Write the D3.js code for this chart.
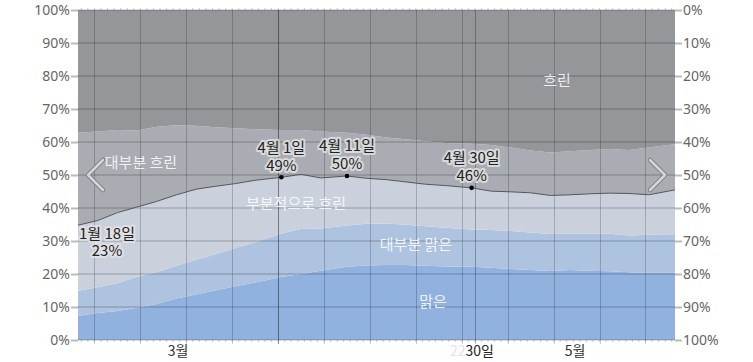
<!DOCTYPE html>
<html><head><meta charset="utf-8">
<script src="https://cdn.jsdelivr.net/npm/d3@7"></script>
<style>
html,body{margin:0;padding:0;background:#fff;}
svg{display:block;font-family:"Noto Sans CJK KR","Noto Sans",sans-serif;}
</style></head>
<body><svg id="chart" width="753" height="362"></svg>
<script>
// ---- data (day 0 = 3월 1일) ----
const days =         [0,   3,   6,   9,   12,  15,  18,  21,  24,  27,  31,  34,  37,  41,  44,  47,  50,  53,  56,  60,  63,  66,  69,  72,  75,  78,  81,  84,  87,  91];
const clear =        [7.3, 8.2, 8.8, 9.8, 10.9,12.6,13.8,15.1,16.3,17.4,19.1,20.0,21.0,22.2,22.6,22.7,22.7,22.5,22.3,22.2,21.9,21.5,21.2,20.9,21.2,21.0,20.8,20.5,20.4,20.4];
const mostlyClear =  [7.6, 7.8, 8.4, 9.4, 9.7, 9.9, 10.5,10.9,11.6,12.2,13.2,13.6,12.8,12.5,12.6,12.6,12.2,12.0,11.7,11.3,11.4,11.5,11.4,11.2,11.1,11.3,11.4,11.2,11.5,11.4];
const partlyCloudy = [19.9,20.2,21.4,21.1,21.4,21.5,21.4,20.6,19.5,18.8,17.0,16.6,15.3,15.0,13.8,13.3,13.0,12.7,12.8,12.6,11.8,11.9,12.0,11.7,11.7,12.0,12.3,12.7,12.1,13.7];
const mostlyCloudy = [28.0,27.0,25.0,23.2,22.6,21.1,19.2,17.9,16.8,15.5,14.3,13.4,14.1,13.1,13.2,12.8,12.9,13.0,12.9,13.4,14.0,13.4,12.8,13.0,13.2,13.3,13.4,13.2,14.3,13.8];
const overcast =     [37.2,36.8,36.4,36.5,35.4,34.9,35.1,35.5,35.8,36.1,36.4,36.4,36.8,37.2,37.8,38.6,39.2,39.8,40.3,40.5,40.9,41.7,42.6,43.2,42.8,42.4,42.1,42.4,41.7,40.7];
const categories = ["맑은", "대부분 맑은", "부분적으로 흐린", "대부분 흐린", "흐린"];
const yTicks = [0,10,20,30,40,50,60,70,80,90,100];
const monthLabels = ["3월", "5월"];
const monthSpans = [[0, 30.5], [60.5, 91]];
const monthBoundaries = [30.5, 60.5];
const annotations = [
  {day: 31, line1: "4월 1일", line2: "49%"},
  {day: 41, line1: "4월 11일", line2: "50%"},
  {day: 60, line1: "4월 30일", line2: "46%"}
];
const edgeAnnotation = {line1: "1월 18일", line2: "23%"};
const dayCount = 91;

// ---- styles ----
const colors = ["#91b1de", "#aec3df", "#cbd1dc", "#a9acb3", "#949699"];

const svg = d3.select("#chart");
const L = 78, R = 675, T = 10, B = 340;
const x = d3.scaleLinear().domain([0, dayCount]).range([L, R]);
const y = d3.scaleLinear().domain([0, 100]).range([B, T]);
const yR = d3.scaleLinear().domain([0, 100]).range([T, B]);

const keys = ["clear","mostlyClear","partlyCloudy","mostlyCloudy","overcast"];
const rows = days.map((d,i)=>({day:d, clear:clear[i], mostlyClear:mostlyClear[i], partlyCloudy:partlyCloudy[i], mostlyCloudy:mostlyCloudy[i], overcast:overcast[i]}));
const stack = d3.stack().keys(keys)(rows);

const area = d3.area().x(d=>x(d.data.day)).y0(d=>y(d[0])).y1(d=>y(Math.min(100,d[1])));
svg.append("g").selectAll("path").data(stack).join("path")
  .attr("d", (s,i)=> i===4 ? d3.area().x(d=>x(d.data.day)).y0(d=>y(d[0])).y1(y(100))(s) : area(s))
  .attr("fill", (s,i)=>colors[i]);

// minor daily ticks
const minor = d3.range(0.5, dayCount, 1);
svg.append("g").selectAll("line").data(minor).join("line")
  .attr("x1", d=>x(d)).attr("x2", d=>x(d)).attr("y1", T-2).attr("y2", T)
  .attr("stroke", "#ccc").attr("stroke-width", 1);
svg.append("g").selectAll("line").data(minor).join("line")
  .attr("x1", d=>x(d)).attr("x2", d=>x(d)).attr("y1", B).attr("y2", B+2)
  .attr("stroke", "#ccc").attr("stroke-width", 1);

// horizontal grid
svg.append("g").selectAll("line").data(yTicks).join("line")
  .attr("x1", L).attr("x2", R).attr("y1", d=>y(d)).attr("y2", d=>y(d))
  .attr("stroke", "rgba(0,0,0,0.13)").attr("stroke-width", 2);

// weekly vertical grid
const weeks = d3.range(2.5, dayCount, 7);
svg.append("g").selectAll("line").data(weeks).join("line")
  .attr("x1", d=>Math.round(x(d))+0.5).attr("x2", d=>Math.round(x(d))+0.5).attr("y1", T).attr("y2", B+4)
  .attr("stroke", "rgba(0,0,0,0.2)").attr("stroke-width", 1);
svg.append("g").selectAll("line").data(monthBoundaries).join("line")
  .attr("x1", d=>Math.round(x(d))+0.5).attr("x2", d=>Math.round(x(d))+0.5).attr("y1", T).attr("y2", B+4)
  .attr("stroke", "rgba(0,0,0,0.28)").attr("stroke-width", 1);

// axes
const axL = svg.append("g").attr("transform", `translate(${L},0)`)
  .call(d3.axisLeft(y).tickValues(yTicks).tickFormat(d=>d+"%").tickSize(7).tickPadding(1));
const axR = svg.append("g").attr("transform", `translate(${R},0)`)
  .call(d3.axisRight(yR).tickValues(yTicks).tickFormat(d=>d+"%").tickSize(7).tickPadding(1));
[axL, axR].forEach(a=>{
  a.select(".domain").remove();
  a.selectAll(".tick line").attr("stroke", "#bbb").attr("stroke-width", 2);
  a.selectAll(".tick text").attr("fill", "#666").attr("font-size", 14)
    .attr("font-family", "'Noto Sans','Noto Sans CJK KR',sans-serif");
});

// month labels
svg.append("g").selectAll("text").data(monthLabels).join("text")
  .attr("x", (d,i)=>x((monthSpans[i][0]+monthSpans[i][1])/2))
  .attr("y", 356).attr("text-anchor", "middle")
  .attr("font-size", 14).attr("fill", "#333").text(d=>d);
const odd = svg.append("text").attr("x", x(monthBoundaries[1]) + 19).attr("y", 356)
  .attr("text-anchor", "end").attr("font-size", 14);
odd.append("tspan").attr("fill", "#e4e4e4").text("22");
odd.append("tspan").attr("fill", "#222").text("30일");

// cloud line (top of partly cloudy)
const line = d3.line().x(d=>x(d.data.day)).y(d=>y(d[1]));
svg.append("path").datum(stack[2]).attr("d", line)
  .attr("fill", "none").attr("stroke", "#555").attr("stroke-width", 1);

// category labels
const catPos = [[433, 302], [416, 245], [296, 204], [141, 163], [557, 81]];
svg.append("g").selectAll("text").data(categories).join("text")
  .attr("x", (d,i)=>catPos[i][0]).attr("y", (d,i)=>catPos[i][1]).attr("dy", "0.35em")
  .attr("text-anchor", "middle").attr("font-size", 15)
  .attr("fill", "rgba(255,255,255,0.85)").text(d=>d);

// annotations
function halo(sel){
  return sel.attr("stroke", "#e6e6e6").attr("stroke-opacity", 0.8).attr("stroke-width", 4)
    .attr("stroke-linejoin", "round").attr("paint-order", "stroke")
    .attr("fill", "#222").attr("font-size", 15).attr("text-anchor", "middle");
}
annotations.forEach(a=>{
  const i = days.indexOf(a.day);
  const cx = x(a.day), cy = y(stack[2][i][1]);
  svg.append("circle").attr("cx", cx).attr("cy", cy).attr("r", 2.3).attr("fill", "#000");
  halo(svg.append("text")).attr("x", cx).attr("y", cy - 30).attr("dy", "0.35em").text(a.line1);
  halo(svg.append("text")).attr("x", cx).attr("y", cy - 12).attr("dy", "0.35em").text(a.line2);
});
{
  const cy = y(stack[2][0][1]);
  halo(svg.append("text")).attr("x", L + 29).attr("y", cy + 9).attr("dy", "0.35em").text(edgeAnnotation.line1);
  halo(svg.append("text")).attr("x", L + 29).attr("y", cy + 26).attr("dy", "0.35em").text(edgeAnnotation.line2);
}

// navigation chevrons
const midY = y(50);
function chevron(path){
  svg.append("path").attr("d", path).attr("fill", "none").attr("stroke", "#7a7a7a")
    .attr("stroke-width", 4.5).attr("stroke-linecap", "round").attr("stroke-linejoin", "round");
  svg.append("path").attr("d", path).attr("fill", "none").attr("stroke", "#d6d6d6")
    .attr("stroke-width", 2.6).attr("stroke-linecap", "round").attr("stroke-linejoin", "round");
}
chevron(`M${L+25},${midY-15} L${L+10},${midY} L${L+25},${midY+15}`);
chevron(`M${R-25},${midY-15} L${R-10},${midY} L${R-25},${midY+15}`);
</script></body></html>
